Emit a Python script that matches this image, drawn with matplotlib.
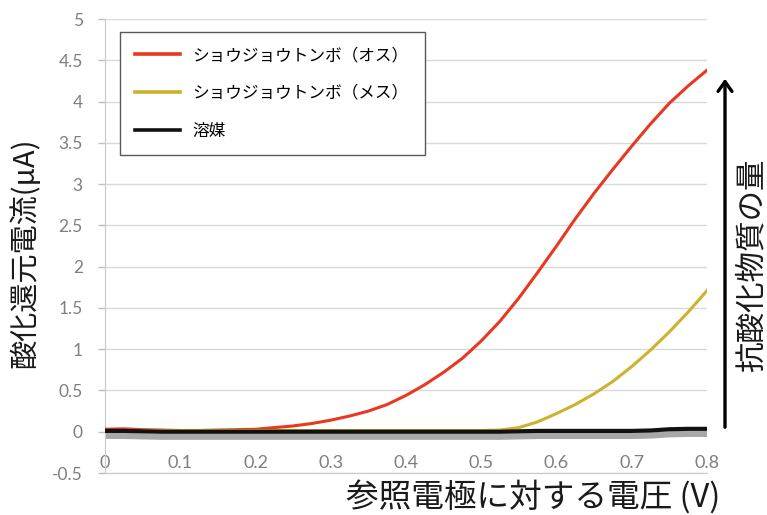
import matplotlib
matplotlib.use("Agg")
import matplotlib.pyplot as plt
import matplotlib.transforms as mtransforms
from matplotlib.patches import FancyArrowPatch

plt.rcParams["font.family"] = ["Noto Sans CJK JP", "DejaVu Sans"]

# Electrode potential vs. reference (V)
voltage = [0.000, 0.025, 0.050, 0.075, 0.100, 0.125, 0.150, 0.175, 0.200,
           0.225, 0.250, 0.275, 0.300, 0.325, 0.350, 0.375, 0.400, 0.425,
           0.450, 0.475, 0.500, 0.525, 0.550, 0.575, 0.600, 0.625, 0.650,
           0.675, 0.700, 0.725, 0.750, 0.775, 0.800]

# Redox current (uA)
male = [0.03, 0.035, 0.025, 0.02, 0.015, 0.015, 0.02, 0.025, 0.03,
        0.05, 0.07, 0.10, 0.14, 0.19, 0.25, 0.33, 0.44, 0.57,
        0.72, 0.89, 1.10, 1.34, 1.62, 1.93, 2.25, 2.58, 2.89,
        3.18, 3.46, 3.73, 3.98, 4.19, 4.38]
female = [0.015, 0.015, 0.015, 0.015, 0.015, 0.015, 0.015, 0.015, 0.015,
          0.015, 0.015, 0.015, 0.015, 0.015, 0.015, 0.015, 0.015, 0.015,
          0.015, 0.015, 0.015, 0.02, 0.05, 0.12, 0.22, 0.33, 0.46,
          0.61, 0.79, 0.99, 1.21, 1.45, 1.71]
solvent = [0.01, 0.01, 0.005, 0.0, 0.0, 0.0, 0.0, 0.0, 0.0,
           0.0, 0.0, 0.0, 0.0, 0.0, 0.0, 0.0, 0.0, 0.0,
           0.0, 0.0, 0.0, 0.0, 0.005, 0.01, 0.01, 0.01, 0.01,
           0.01, 0.01, 0.015, 0.03, 0.035, 0.035]

series_labels = ["ショウジョウトンボ（オス）", "ショウジョウトンボ（メス）", "溶媒"]
series_colors = ["#e8381f", "#cdb22e", "#111111"]

x_ticks = [0, 0.1, 0.2, 0.3, 0.4, 0.5, 0.6, 0.7, 0.8]
x_tick_labels = ["0", "0.1", "0.2", "0.3", "0.4", "0.5", "0.6", "0.7", "0.8"]
y_ticks = [-0.5, 0, 0.5, 1, 1.5, 2, 2.5, 3, 3.5, 4, 4.5, 5]
y_tick_labels = ["-0.5", "0", "0.5", "1", "1.5", "2", "2.5", "3", "3.5", "4", "4.5", "5"]

W, H = 767, 515
fig = plt.figure(figsize=(W / 100, H / 100), dpi=100)
ax = fig.add_axes([105 / W, 1 - 473 / H, 602 / W, 454 / H])

ax.set_xlim(0, 0.8)
ax.set_ylim(-0.5, 5)

# light grid and axes
ax.set_yticks(y_ticks)
ax.set_yticklabels(y_tick_labels, fontfamily="Lato", fontsize=12.5, color="#7f7f7f")
ax.set_xticks(x_ticks)
ax.set_xticklabels(x_tick_labels, fontfamily="Lato", fontsize=13, color="#7f7f7f")
ax.tick_params(axis="y", length=5, width=1, color="#bfbfbf", pad=11)
ax.tick_params(axis="x", length=0, pad=-13)
ax.grid(axis="y", color="#d9d9d9", linewidth=1)
ax.set_axisbelow(True)
for side in ("top", "right"):
    ax.spines[side].set_visible(False)
ax.spines["left"].set_color("#c8c8c8")
ax.spines["bottom"].set_color("#c8c8c8")

# gray shadow under the solvent trace
shadow = mtransforms.offset_copy(ax.transData, fig=fig, x=0, y=-5, units="dots")
ax.plot(voltage, solvent, color="#a8a8a8", linewidth=4.5, transform=shadow,
        solid_capstyle="butt", zorder=2)

ax.plot(voltage, male, color=series_colors[0], linewidth=2.2, label=series_labels[0], zorder=3)
ax.plot(voltage, female, color=series_colors[1], linewidth=2.2, label=series_labels[1], zorder=3)
ax.plot(voltage, solvent, color=series_colors[2], linewidth=3.0, label=series_labels[2], zorder=4)

leg = ax.legend(loc="upper left", bbox_to_anchor=(120 / W, 1 - 32 / H, 305 / W, 0.0),
                bbox_transform=fig.transFigure, mode="expand", fontsize=12,
                frameon=True, fancybox=False, edgecolor="#595959", framealpha=1,
                handlelength=2.7, handletextpad=0.75, labelspacing=1.25,
                borderpad=0.9, borderaxespad=0)
leg.get_frame().set_linewidth(1.0)
for line in leg.get_lines():
    line.set_linewidth(2.6)

# axis titles
fig.text(25 / W, 1 - 253 / H, "酸化還元電流(μA)", rotation=90, fontsize=21,
         ha="center", va="center", color="#1a1a1a")
fig.text(720 / W, 1 - 497 / H, "参照電極に対する電圧 (V)", fontsize=23.5,
         ha="right", va="center", color="#1a1a1a")

# arrow: amount of antioxidants
fig.patches.append(FancyArrowPatch(
    (725 / W, 1 - 430 / H), (725 / W, 1 - 76 / H), transform=fig.transFigure,
    arrowstyle="->,head_length=7,head_width=5", linewidth=2.4, color="black",
    mutation_scale=1))
fig.text(752 / W, 1 - 265 / H, "抗酸化物質の量", rotation=90, fontsize=22,
         ha="center", va="center", color="#1a1a1a")

fig.savefig("out.png", dpi=100, facecolor="white")
